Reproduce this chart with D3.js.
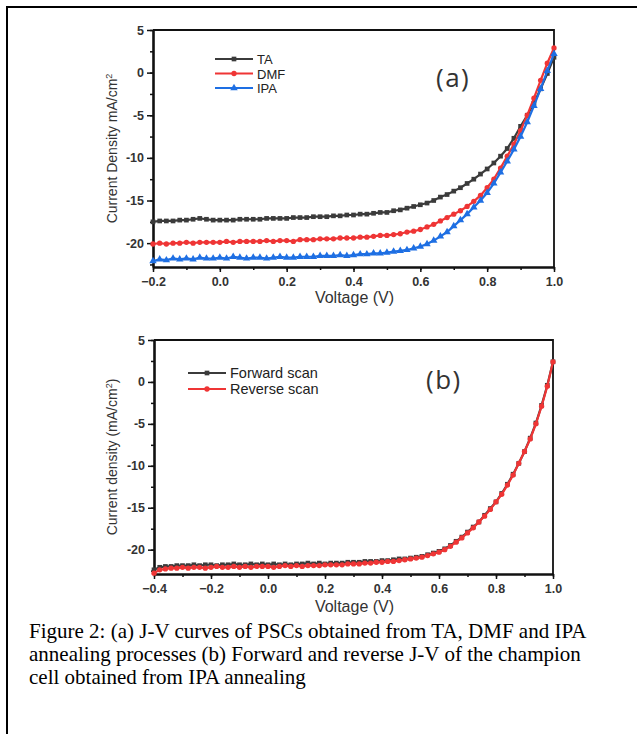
<!DOCTYPE html>
<html>
<head>
<meta charset="utf-8">
<script src="https://cdn.jsdelivr.net/npm/d3@7"></script>
<style>
  body { margin: 0; background: #fff; }
  svg { display: block; }
</style>
</head>
<body>
<svg id="fig" width="637" height="734"></svg>
<script>
// ---- panel (a): J-V curves, TA / DMF / IPA ----
const voltsA = [-0.20,-0.18,-0.16,-0.14,-0.12,-0.10,-0.08,-0.06,-0.04,-0.02,
  0.00,0.02,0.04,0.06,0.08,0.10,0.12,0.14,0.16,0.18,0.20,0.22,0.24,0.26,0.28,
  0.30,0.32,0.34,0.36,0.38,0.40,0.42,0.44,0.46,0.48,0.50,0.52,0.54,0.56,0.58,
  0.60,0.62,0.64,0.66,0.68,0.70,0.72,0.74,0.76,0.78,0.80,0.82,0.84,0.86,0.88,
  0.90,0.92,0.94,0.96,0.98,1.00];
const taJ = [-17.5,-17.4,-17.4,-17.4,-17.3,-17.3,-17.2,-17.1,-17.2,-17.3,
  -17.3,-17.3,-17.3,-17.2,-17.2,-17.2,-17.2,-17.1,-17.1,-17.1,-17.1,-17.0,-17.0,-17.0,-16.9,
  -16.9,-16.9,-16.8,-16.8,-16.7,-16.7,-16.6,-16.6,-16.5,-16.4,-16.4,-16.2,-16.1,-15.9,-15.7,
  -15.5,-15.3,-15.0,-14.6,-14.3,-13.9,-13.5,-13.0,-12.5,-11.9,-11.3,-10.6,-9.8,-8.9,-7.7,
  -6.3,-5.0,-3.6,-1.9,-0.1,1.8];
const dmfJ = [-20.1,-20.0,-20.1,-20.0,-20.0,-19.9,-20.0,-19.9,-19.9,-19.9,
  -19.9,-19.8,-19.9,-19.8,-19.8,-19.8,-19.8,-19.7,-19.8,-19.7,-19.7,-19.8,-19.6,-19.6,-19.6,
  -19.5,-19.5,-19.5,-19.4,-19.4,-19.4,-19.3,-19.3,-19.2,-19.1,-19.1,-19.0,-18.9,-18.7,-18.6,
  -18.4,-18.1,-17.8,-17.4,-17.0,-16.6,-16.2,-15.7,-15.1,-14.4,-13.5,-12.5,-11.2,-9.8,-8.4,
  -6.8,-5.0,-3.0,-0.9,1.1,2.9];
const ipaJ = [-22.1,-21.9,-22.0,-21.8,-21.9,-21.8,-21.9,-21.7,-21.8,-21.8,
  -21.7,-21.8,-21.6,-21.7,-21.8,-21.7,-21.7,-21.8,-21.7,-21.6,-21.7,-21.7,-21.6,-21.6,-21.6,
  -21.5,-21.5,-21.5,-21.4,-21.5,-21.4,-21.3,-21.3,-21.2,-21.2,-21.1,-21.0,-20.9,-20.8,-20.6,
  -20.4,-20.1,-19.7,-19.2,-18.7,-18.0,-17.3,-16.6,-15.8,-15.0,-14.1,-13.0,-11.7,-10.4,-9.0,
  -7.5,-5.8,-3.9,-1.9,0.2,2.2];

// ---- panel (b): forward / reverse scan of champion cell ----
const voltsB = [-0.40,-0.38,-0.36,-0.34,-0.32,-0.30,-0.28,-0.26,-0.24,-0.22,
  -0.20,-0.18,-0.16,-0.14,-0.12,-0.10,-0.08,-0.06,-0.04,-0.02,
  0.00,0.02,0.04,0.06,0.08,0.10,0.12,0.14,0.16,0.18,0.20,0.22,0.24,0.26,0.28,
  0.30,0.32,0.34,0.36,0.38,0.40,0.42,0.44,0.46,0.48,0.50,0.52,0.54,0.56,0.58,
  0.60,0.62,0.64,0.66,0.68,0.70,0.72,0.74,0.76,0.78,0.80,0.82,0.84,0.86,0.88,
  0.90,0.92,0.94,0.96,0.98,1.00];
const forwardJ = [-22.4,-22.1,-22.0,-22.0,-21.9,-21.9,-21.9,-21.8,-21.9,-21.8,
  -21.8,-21.9,-21.8,-21.8,-21.7,-21.8,-21.8,-21.7,-21.8,-21.7,
  -21.8,-21.7,-21.8,-21.7,-21.8,-21.7,-21.7,-21.6,-21.7,-21.6,-21.7,-21.6,-21.6,-21.6,-21.5,
  -21.5,-21.5,-21.4,-21.4,-21.4,-21.3,-21.3,-21.2,-21.1,-21.1,-21.0,-20.9,-20.8,-20.6,-20.4,
  -20.2,-19.9,-19.5,-19.0,-18.5,-17.9,-17.3,-16.7,-15.9,-15.1,-14.3,-13.3,-12.2,-11.0,-9.7,
  -8.3,-6.7,-4.9,-2.8,-0.4,2.4];
const reverseJ = [-22.8,-22.4,-22.3,-22.2,-22.2,-22.1,-22.2,-22.1,-22.1,-22.2,
  -22.1,-22.0,-22.1,-22.1,-22.0,-22.1,-22.0,-22.1,-22.0,-22.0,
  -22.0,-22.1,-22.0,-21.9,-22.0,-21.9,-22.0,-21.9,-21.9,-21.9,-21.8,-21.8,-21.8,-21.8,-21.7,
  -21.7,-21.7,-21.6,-21.6,-21.5,-21.5,-21.4,-21.4,-21.3,-21.2,-21.1,-21.0,-20.9,-20.7,-20.5,
  -20.3,-20.0,-19.6,-19.1,-18.6,-18.0,-17.4,-16.7,-16.0,-15.2,-14.3,-13.4,-12.3,-11.1,-9.7,
  -8.3,-6.8,-5.0,-2.9,-0.5,2.4];

// tick labels
const yTicks = [5, 0, -5, -10, -15, -20];
const yMinor = [5, 2.5, 0, -2.5, -5, -7.5, -10, -12.5, -15, -17.5, -20, -22.5];
const xTicksA = [-0.2, 0.0, 0.2, 0.4, 0.6, 0.8, 1.0];
const xMinorA = [-0.2, -0.1, 0.0, 0.1, 0.2, 0.3, 0.4, 0.5, 0.6, 0.7, 0.8, 0.9, 1.0];
const xTicksB = [-0.4, -0.2, 0.0, 0.2, 0.4, 0.6, 0.8, 1.0];
const xMinorB = [-0.4, -0.3, -0.2, -0.1, 0.0, 0.1, 0.2, 0.3, 0.4, 0.5, 0.6, 0.7, 0.8, 0.9, 1.0];

const captionLines = [
  "Figure 2: (a) J-V curves of PSCs obtained from TA, DMF and IPA",
  "annealing processes (b) Forward and reverse J-V of the champion",
  "cell obtained from IPA annealing"
];

const BLACK = "#3b3b3b", RED = "#ef3535", BLUE = "#1e6fe3";
const svg = d3.select("#fig");

// page frame (only top and left edges are visible)
svg.append("path")
  .attr("d", "M7,734V7H637")
  .attr("fill", "none").attr("stroke", "#000").attr("stroke-width", 2);

function drawPanel(o) {
  const g = svg.append("g");
  const x = d3.scaleLinear().domain(o.xDomain).range([o.left, o.right]);
  const y = d3.scaleLinear().domain(o.yDomain).range([o.bottom, o.top]);

  // top & right frame of the plot box
  g.append("path")
    .attr("d", `M${o.left},${o.top}H${o.right}V${o.bottom}`)
    .attr("fill", "none").attr("stroke", "#111").attr("stroke-width", 1.8);

  // minor ticks
  g.append("g").attr("transform", `translate(0,${o.bottom})`)
    .call(d3.axisBottom(x).tickValues(o.xMinor).tickSize(3).tickFormat(""))
    .call(a => a.select(".domain").remove());
  g.append("g").attr("transform", `translate(${o.left},0)`)
    .call(d3.axisLeft(y).tickValues(yMinor).tickSize(3).tickFormat(""))
    .call(a => a.select(".domain").remove());

  // major axes
  const xa = g.append("g").attr("transform", `translate(0,${o.bottom})`)
    .call(d3.axisBottom(x).tickValues(o.xTicks).tickSize(5).tickSizeOuter(0).tickPadding(5)
      .tickFormat(d3.format(".1f")));
  const ya = g.append("g").attr("transform", `translate(${o.left},0)`)
    .call(d3.axisLeft(y).tickValues(yTicks).tickSize(6).tickSizeOuter(0).tickPadding(3)
      .tickFormat(d => d));
  [xa, ya].forEach(a => {
    a.select(".domain").attr("stroke", "#111").attr("stroke-width", 2.6);
    a.selectAll(".tick text")
      .attr("font-family", "'Liberation Sans', Arial, sans-serif")
      .attr("font-weight", "bold").attr("font-size", 12.5).attr("fill", "#333");
  });
  g.selectAll(".tick line").attr("stroke", "#111").attr("stroke-width", 1.5);

  // axis titles
  g.append("text")
    .attr("x", (o.left + o.right) / 2 + 1).attr("y", o.xTitleY)
    .attr("text-anchor", "middle")
    .attr("font-family", "'Liberation Sans', Arial, sans-serif")
    .attr("font-size", 16).attr("fill", "#333")
    .text("Voltage (V)");
  const yt = g.append("text")
    .attr("transform", `translate(117,${(o.top + o.bottom) / 2}) rotate(-90)`)
    .attr("text-anchor", "middle")
    .attr("font-family", "'Liberation Sans Narrow', 'Arial Narrow', sans-serif")
    .attr("font-size", 14).attr("fill", "#333");
  yt.append("tspan").text(o.yTitle[0]);
  yt.append("tspan").attr("font-size", 9).attr("dy", -5).text("2");
  yt.append("tspan").attr("dy", 5).text(o.yTitle[1]);

  // curves
  const line = d3.line().x(d => x(d[0])).y(d => y(d[1]));
  o.series.forEach(s => {
    const pts = s.values.map((v, i) => [o.volts[i], v]);
    g.append("path").datum(pts)
      .attr("d", line).attr("fill", "none")
      .attr("stroke", s.color).attr("stroke-width", 2.2);
    const sym = d3.symbol().type(s.symbol).size(s.size);
    g.append("g").selectAll("path").data(pts).join("path")
      .attr("transform", d => `translate(${x(d[0])},${y(d[1])})`)
      .attr("d", sym).attr("fill", s.color);
  });

  // legend
  o.series.forEach((s, i) => {
    const ly = o.legendY + i * o.legendStep;
    g.append("line")
      .attr("x1", o.legendX).attr("x2", o.legendX + 38)
      .attr("y1", ly).attr("y2", ly)
      .attr("stroke", s.color).attr("stroke-width", 2.2);
    g.append("path")
      .attr("transform", `translate(${o.legendX + 19},${ly})`)
      .attr("d", d3.symbol().type(s.symbol).size(s.size)).attr("fill", s.color);
    g.append("text")
      .attr("x", o.legendX + 42).attr("y", ly + 5)
      .attr("font-family", "'Liberation Sans', Arial, sans-serif")
      .attr("font-size", o.legendFont).attr("fill", "#222")
      .text(s.name);
  });

  // panel tag
  g.append("text")
    .attr("x", o.tagX).attr("y", o.tagY)
    .attr("font-family", "'Open Sans', sans-serif")
    .attr("font-size", 26).attr("letter-spacing", 1.5).attr("fill", "#333")
    .text(o.tag);
}

drawPanel({
  left: 153, right: 554, top: 30, bottom: 267,
  xDomain: [-0.2, 1.0], yDomain: [-22.8, 5],
  xTicks: xTicksA, xMinor: xMinorA, xTitleY: 303,
  yTitle: ["Current Density mA/cm", ""],
  volts: voltsA,
  series: [
    { name: "TA", values: taJ, color: BLACK, symbol: d3.symbolSquare, size: 22 },
    { name: "DMF", values: dmfJ, color: RED, symbol: d3.symbolCircle, size: 22 },
    { name: "IPA", values: ipaJ, color: BLUE, symbol: d3.symbolTriangle, size: 24 }
  ],
  legendX: 215, legendY: 59, legendStep: 14.5, legendFont: 13,
  tag: "(a)", tagX: 436, tagY: 87
});

drawPanel({
  left: 154, right: 553, top: 340, bottom: 574,
  xDomain: [-0.4, 1.0], yDomain: [-22.9, 5],
  xTicks: xTicksB, xMinor: xMinorB, xTitleY: 612,
  yTitle: ["Current density (mA/cm", ")"],
  volts: voltsB,
  series: [
    { name: "Forward scan", values: forwardJ, color: BLACK, symbol: d3.symbolSquare, size: 22 },
    { name: "Reverse scan", values: reverseJ, color: RED, symbol: d3.symbolCircle, size: 22 }
  ],
  legendX: 188, legendY: 373, legendStep: 16, legendFont: 14.5,
  tag: "(b)", tagX: 426, tagY: 389
});

// caption
svg.append("g").selectAll("text").data(captionLines).join("text")
  .attr("x", 29).attr("y", (d, i) => 638 + i * 23)
  .attr("font-family", "'Liberation Serif', 'Times New Roman', serif")
  .attr("font-size", 21).attr("fill", "#000")
  .text(d => d);
</script>
</body>
</html>
